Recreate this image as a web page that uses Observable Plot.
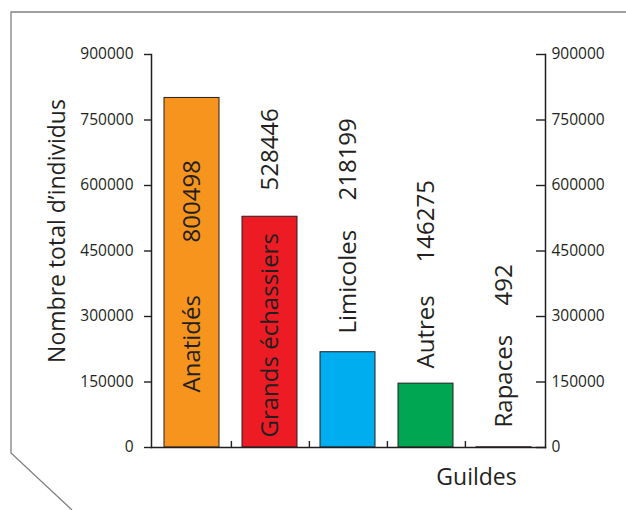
<!DOCTYPE html>
<html>
<head>
<meta charset="utf-8">
<script src="https://cdn.jsdelivr.net/npm/d3@7"></script>
<script src="https://cdn.jsdelivr.net/npm/@observablehq/plot@0.6"></script>
<style>
  html, body { margin: 0; padding: 0; background: #fff; }
  #wrap { position: relative; width: 626px; height: 510px; overflow: hidden; }
  #wrap > svg { position: absolute; left: 0; top: 0; }
  #deco { pointer-events: none; }
</style>
</head>
<body>
<div id="wrap">
  <svg id="deco" width="626" height="510">
    <polyline points="626,12 11,12 11,453 72,510" fill="none" stroke="#808080" stroke-width="1.3"/>
  </svg>
</div>
<script>
// ---- data ----
const guildes = ["Anatidés", "Grands échassiers", "Limicoles", "Autres", "Rapaces"];
const totals  = [800498, 528446, 218199, 146275, 492];
const colors  = ["#F7941D", "#ED1C24", "#00AEEF", "#00A651", "#9E5BA6"];
const yTicks  = [0, 150000, 300000, 450000, 600000, 750000, 900000];
const yTitle  = "Nombre total d’individus";
const xTitle  = "Guildes";

const data = guildes.map((g, i) => ({guilde: g, total: totals[i], color: colors[i]}));

// label placement (in data units of the y scale): where each rotated label begins
const nameStart  = {"Anatidés": 126000, "Grands échassiers": 22900, "Limicoles": 261000, "Autres": 181000, "Rapaces": 45800};
const valueStart = {"Anatidés": 469500, "Grands échassiers": 588500, "Limicoles": 565600, "Autres": 423700, "Rapaces": 325200};

const W = 626, H = 510, ML = 151, MR = 81, MT = 54, MB = 63;
const step = (W - ML - MR) / guildes.length;
const ink = "#231f20";
const font = "'Open Sans', sans-serif";
const fmt = d3.format("d");

const chart = Plot.plot({
  width: W, height: H,
  marginLeft: ML, marginRight: MR, marginTop: MT, marginBottom: MB,
  style: {fontFamily: font, background: "transparent", color: ink},
  x: {domain: guildes, paddingInner: 0.29, paddingOuter: 0.145, axis: null},
  y: {domain: [0, 900000], axis: null},
  marks: [
    Plot.barY(data, {x: "guilde", y: "total", fill: "color", stroke: ink, strokeWidth: 1}),
    // left axis
    Plot.axisY({anchor: "left", ticks: yTicks, tickSize: 7, tickPadding: 11, tickFormat: fmt,
                fontSize: 15.5, label: null, stroke: ink, strokeWidth: 1.4, fill: ink}),
    // right axis: inward ticks, then labels
    Plot.axisY({anchor: "right", ticks: yTicks, tickSize: 10, dx: -10, tickFormat: () => "", label: null,
                stroke: ink, strokeWidth: 1.4}),
    Plot.axisY({anchor: "right", ticks: yTicks, tickSize: 0, tickPadding: 6, tickFormat: fmt, label: null,
                fontSize: 15.5, fill: ink}),
    Plot.frame({anchor: "left", stroke: ink, strokeWidth: 1.5}),
    Plot.frame({anchor: "right", stroke: ink, strokeWidth: 1.5}),
    Plot.frame({anchor: "bottom", stroke: ink, strokeWidth: 1.5}),
    // category separator ticks on the baseline
    Plot.axisX({anchor: "bottom", ticks: guildes.slice(0, -1), tickSize: -6, dx: step / 2, tickFormat: () => "",
                label: null, stroke: ink, strokeWidth: 1.4}),
    // rotated labels
    Plot.text(data, {x: "guilde", y: d => nameStart[d.guilde], text: "guilde", rotate: -90, textAnchor: "start",
                     fontSize: 24, fill: ink}),
    Plot.text(data, {x: "guilde", y: d => valueStart[d.guilde], text: d => String(d.total), rotate: -90, textAnchor: "start",
                     fontSize: 24, fill: ink}),
    // titles
    Plot.text([yTitle], {text: d => d, frameAnchor: "left", textAnchor: "middle", rotate: -90, dx: -94, dy: -20,
                         fontSize: 23, fill: ink}),
    Plot.text([xTitle], {text: d => d, frameAnchor: "bottom", textAnchor: "middle", dx: 128, dy: 37, fontSize: 23, fill: ink})
  ]
});
document.getElementById("wrap").appendChild(chart);
</script>
</body>
</html>
